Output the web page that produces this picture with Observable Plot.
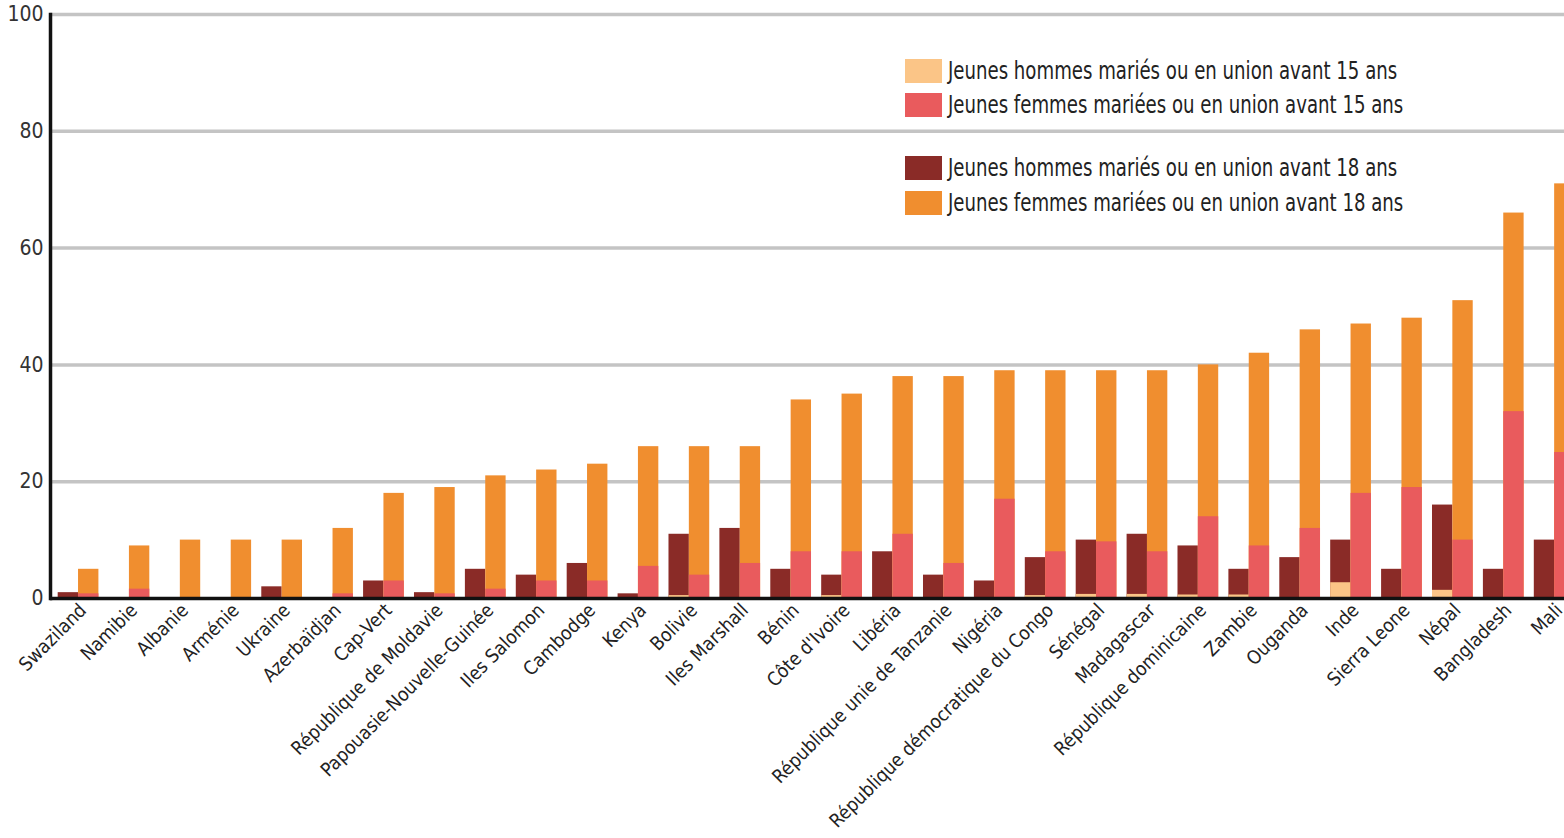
<!DOCTYPE html>
<html>
<head>
<meta charset="utf-8">
<script src="https://cdn.jsdelivr.net/npm/d3@7"></script>
<script src="https://cdn.jsdelivr.net/npm/@observablehq/plot@0.6"></script>
<style>
  html, body { margin: 0; padding: 0; background: #fff; overflow: hidden; }
  #wrap { position: relative; width: 1564px; height: 838px; overflow: hidden; }
  #wrap svg { display: block; overflow: hidden; }
  .cf { font-family: "DejaVu Sans Condensed", "DejaVu Sans", sans-serif; font-stretch: condensed; }
  #legend { position: absolute; left: 905px; top: 0; }
  .row { position: absolute; left: 0; display: flex; align-items: flex-start; white-space: nowrap; }
  .sw { width: 37px; height: 24px; margin-right: 6px; flex: none; }
  .lt { font-size: 24px; line-height: 24px; color: #222; transform: scaleX(0.84); transform-origin: 0 0; }
  g[aria-label="y-axis"] path.domain { stroke: #111; stroke-width: 3.5px; stroke-opacity: 1; }
</style>
</head>
<body>
<div id="wrap"></div>
<script>
const countries = ["Swaziland","Namibie","Albanie","Arménie","Ukraine","Azerbaïdjan","Cap-Vert",
  "République de Moldavie","Papouasie-Nouvelle-Guinée","Iles Salomon","Cambodge","Kenya","Bolivie",
  "Iles Marshall","Bénin","Côte d'Ivoire","Libéria","République unie de Tanzanie","Nigéria",
  "République démocratique du Congo","Sénégal","Madagascar","République dominicaine","Zambie",
  "Ouganda","Inde","Sierra Leone","Népal","Bangladesh","Mali"];
// Jeunes hommes mariés avant 18 ans (%)
const hommes18 = [1,0,0,0,2,0,3,1,5,4,6,0.8,11,12,5,4,8,4,3,7,10,11,9,5,7,10,5,16,5,10];
// Jeunes hommes mariés avant 15 ans (%)
const hommes15 = [0,0,0,0,0,0,0,0,0,0,0,0,0.5,0,0,0.5,0,0,0,0.5,0.7,0.7,0.6,0.6,0,2.7,0,1.4,0,0];
// Jeunes femmes mariées avant 18 ans (%)
const femmes18 = [5,9,10,10,10,12,18,19,21,22,23,26,26,26,34,35,38,38,39,39,39,39,40,42,46,47,48,51,66,71];
// Jeunes femmes mariées avant 15 ans (%)
const femmes15 = [0.8,1.6,0,0,0,0.8,3,0.8,1.6,3,3,5.5,4,6,8,8,11,6,17,8,9.7,8,14,9,12,18,19,10,32,25];
const yTicks = [0,20,40,60,80,100];
const legendItems = [
  {label: "Jeunes hommes mariés ou en union avant 15 ans", color: "#fbc587", top: 59},
  {label: "Jeunes femmes mariées ou en union avant 15 ans", color: "#e95b5d", top: 93},
  {label: "Jeunes hommes mariés ou en union avant 18 ans", color: "#8a2b27", top: 156},
  {label: "Jeunes femmes mariées ou en union avant 18 ans", color: "#f08e2f", top: 191}
];
const C = {h15: "#fbc587", f15: "#e95b5d", h18: "#8a2b27", f18: "#f08e2f"};

const rows = countries.map((c, i) => ({country: c, h18: hommes18[i], h15: hommes15[i], f18: femmes18[i], f15: femmes15[i]}));
const font = '"DejaVu Sans Condensed", "DejaVu Sans", sans-serif';
const hasAxisMarks = typeof Plot.axisY === "function";

const axisMarks = hasAxisMarks ? [
  Plot.axisY(yTicks, {tickSize: 0, tickPadding: 7, label: null, fontSize: 21, fill: "#333"}),
  Plot.frame({anchor: "left", stroke: "#111", strokeWidth: 3.5, strokeOpacity: 1})
] : [];

const chart = Plot.plot({
  width: 1564,
  height: 838,
  marginTop: 14,
  marginBottom: 240,
  marginLeft: 50,
  marginRight: 0,
  style: {fontFamily: font, fontSize: "21px", fontStretch: "condensed", color: "#333", background: "#fff", overflow: "hidden"},
  x: {domain: countries, range: [47.5, 1584.7], padding: 0.2, round: false, axis: null},
  y: hasAxisMarks
    ? {domain: [0, 100], axis: null}
    : {domain: [0, 100], ticks: yTicks, tickSize: 0, tickPadding: 7, label: null, line: true},
  marks: [
    Plot.ruleY(yTicks.filter(d => d > 0), {stroke: "#c4c4c4", strokeWidth: 3.5}),
    Plot.barY(rows, {x: "country", y: "h18", fill: C.h18, insetRight: 20.35}),
    Plot.barY(rows, {x: "country", y: "h15", fill: C.h15, insetRight: 20.35}),
    Plot.barY(rows, {x: "country", y: "f18", fill: C.f18, insetLeft: 20.35}),
    Plot.barY(rows, {x: "country", y: "f15", fill: C.f15, insetLeft: 20.35}),
    ...axisMarks,
    Plot.ruleY([0], {stroke: "#111", strokeWidth: 3.5}),
    Plot.text(countries, {x: d => d, frameAnchor: "bottom", rotate: -45, textAnchor: "end",
      dx: 9, dy: 13, fontSize: 19, fill: "#222"})
  ]
});
const wrap = document.getElementById("wrap");
wrap.appendChild(chart);

const legend = document.createElement("div");
legend.id = "legend";
legend.className = "cf";
legendItems.forEach(it => {
  const r = document.createElement("div");
  r.className = "row";
  r.style.top = it.top + "px";
  const sw = document.createElement("div");
  sw.className = "sw";
  sw.style.background = it.color;
  const t = document.createElement("div");
  t.className = "lt";
  t.textContent = it.label;
  r.appendChild(sw); r.appendChild(t);
  legend.appendChild(r);
});
wrap.appendChild(legend);
</script>
</body>
</html>
